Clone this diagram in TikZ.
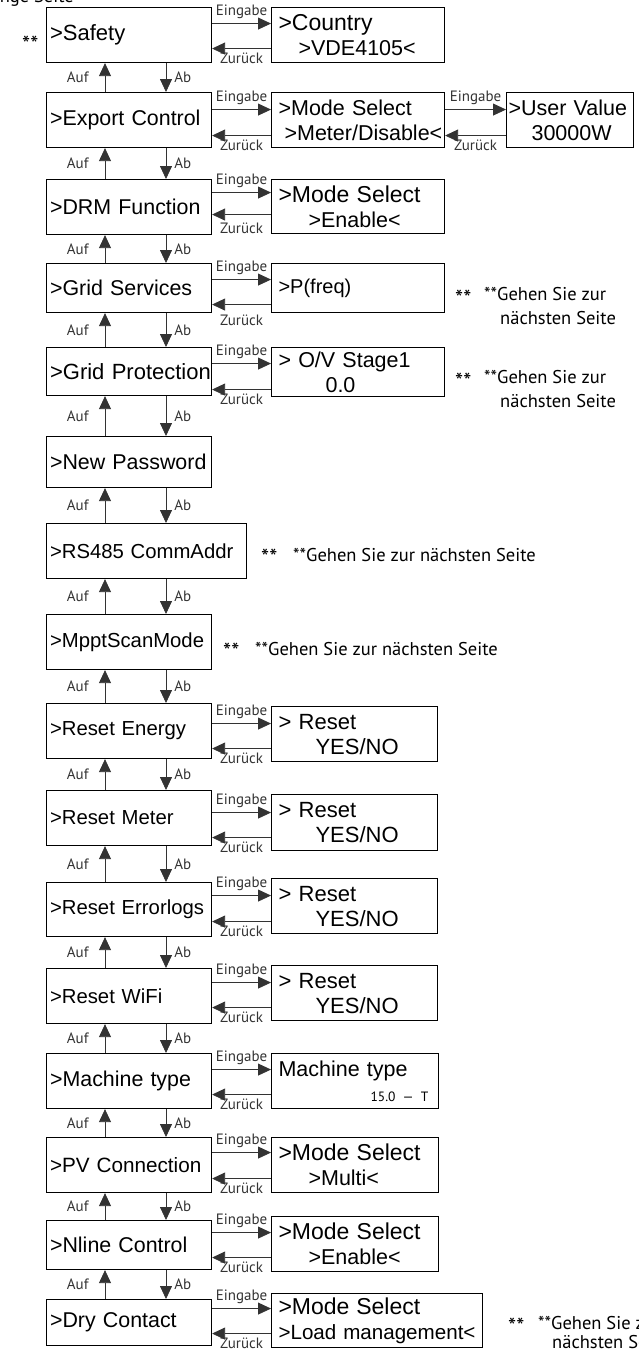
\documentclass[tikz,border=0pt]{standalone}
\usepackage{fontspec}
\setmainfont{Liberation Sans}
\newfontfamily\notefont{PT Sans}
\usetikzlibrary{arrows.meta}

\tikzset{
  menu/.style={draw, line width=1.1pt, anchor=north west, minimum width=165pt, minimum height=55pt,
    text width=158pt, inner xsep=3.5pt, align=left, font=\fontsize{21.4}{25}\selectfont},
  sub/.style={draw, line width=1.1pt, anchor=north west, minimum width=173pt, minimum height=55pt,
    text width=159pt, inner xsep=7pt, align=left, font=\fontsize{21.5}{25}\selectfont},
  smalltext/.style={font=\fontsize{20.3}{25}\selectfont},
  bigtext/.style={font=\fontsize{22}{25}\selectfont},
  go/.style={-{Triangle[length=13pt,width=12pt]}, line width=0.8pt, black!80},
  lbl/.style={font=\notefont\fontsize{15}{17}\selectfont, inner sep=0pt},
  note/.style={font=\notefont\fontsize{18.5}{24}\selectfont, anchor=west, align=left, inner sep=0pt},
  stars/.style={font=\notefont\fontsize{23}{24}\selectfont, anchor=west, inner sep=0pt}
}
\newcommand{\bigline}[1]{{\fontsize{23}{25}\selectfont #1}}

\begin{document}
\begin{tikzpicture}[x=1pt,y=-1pt]
\useasboundingbox (0,0) rectangle (639,1355);

% main menu column
\node[menu, bigtext] (safety) at (46,7) {>Safety};
\node[menu] (export) at (46,92) {>Export Control};
\node[menu] (drm) at (46,179) {>DRM Function};
\node[menu, minimum height=49pt] (grid) at (46,263) {>Grid Services};
\node[menu, bigtext, minimum height=48pt] (prot) at (46,347) {\mbox{>Grid Protection}};
\node[menu, minimum height=51pt] (pass) at (46,436) {\mbox{>New Password}};
\node[menu, smalltext, minimum width=200pt, text width=193pt] (rs) at (46,523) {>RS485 CommAddr};
\node[menu, smalltext] (mppt) at (46,614) {>MpptScanMode};
\node[menu, smalltext] (energy) at (46,703) {>Reset Energy};
\node[menu, smalltext] (meter) at (46,790) {>Reset Meter};
\node[menu, smalltext, minimum height=54pt] (errlog) at (46,882) {\mbox{>Reset Errorlogs}};
\node[menu, smalltext] (wifi) at (46,968) {>Reset WiFi};
\node[menu] (machine) at (46,1053) {>Machine type};
\node[menu, font=\fontsize{20.7}{25}\selectfont] (pv) at (46,1137) {\mbox{>PV Connection}};
\node[menu, minimum height=49pt] (nline) at (46,1220) {>Nline Control};
\node[menu, minimum height=46pt] (dry) at (46,1299) {>Dry Contact};

% sub menus
\node[sub] (country) at (271,7) {\bigline{>Country}\\\hspace*{20pt}>VDE4105<};
\node[sub] (exmode) at (271,92) {>Mode Select\\\mbox{\hspace*{6pt}>Meter/Disable<}};
\node[sub, minimum width=127pt, text width=123pt, inner xsep=2pt] (user) at (506,92) {>User Value\\\hspace*{23pt}30000W};
\node[sub, minimum height=54pt] (drmmode) at (271,179) {\bigline{>Mode Select}\\\hspace*{30pt}>Enable<};
\node[sub, font=\fontsize{20}{25}\selectfont, minimum height=49pt] (pfreq) at (271,263) {>P(freq)};
\node[sub, minimum height=49pt] (ov) at (271,347) {> O/V Stage1\\\hspace*{47pt}0.0};
\node[sub, bigtext, minimum width=166pt, text width=152pt] (reset1) at (271,706) {> Reset\\\hspace*{37pt}YES/NO};
\node[sub, bigtext, minimum width=166pt, text width=152pt, minimum height=56pt] (reset2) at (271,794) {> Reset\\\hspace*{37pt}YES/NO};
\node[sub, bigtext, minimum width=166pt, text width=152pt] (reset3) at (271,878) {> Reset\\\hspace*{37pt}YES/NO};
\node[sub, bigtext, minimum width=166pt, text width=152pt] (reset4) at (271,965) {> Reset\\\hspace*{37pt}YES/NO};
\node[sub, minimum width=167pt, text width=153pt, inner xsep=7pt] (mtype) at (271,1053)
  {Machine type\\\hspace*{92pt}{\notefont\fontsize{13.5}{13.5}\selectfont 15.0 — T}};
\node[sub, minimum width=167pt, text width=153pt] (pvmode) at (271,1137) {\bigline{>Mode Select}\\\hspace*{30pt}>Multi<};
\node[sub, minimum width=167pt, text width=153pt] (nlmode) at (271,1216) {\bigline{>Mode Select}\\\hspace*{30pt}>Enable<};
\node[sub, font=\fontsize{20.6}{25}\selectfont, minimum width=211pt, text width=197pt, minimum height=54pt] (drymode) at (271,1293)
  {\bigline{>Mode Select}\\\mbox{>Load management<}};

% Eingabe / Zurueck
\draw[go] ([yshift=11.5pt]safety.east) -- node[lbl, above=4pt]{Eingabe} ([yshift=11.5pt]safety.east -| country.west);
\draw[go] ([yshift=-13.5pt]safety.east -| country.west) -- node[lbl, below=4pt]{Zurück} ([yshift=-13.5pt]safety.east);
\draw[go] ([yshift=10.5pt]export.east) -- node[lbl, above=4pt]{Eingabe} ([yshift=10.5pt]export.east -| exmode.west);
\draw[go] ([yshift=-15.5pt]export.east -| exmode.west) -- node[lbl, below=4pt]{Zurück} ([yshift=-15.5pt]export.east);
\draw[go] ([yshift=10.5pt]exmode.east) -- node[lbl, above=4pt]{Eingabe} ([yshift=10.5pt]exmode.east -| user.west);
\draw[go] ([yshift=-15.5pt]exmode.east -| user.west) -- node[lbl, below=4pt]{Zurück} ([yshift=-15.5pt]exmode.east);
\draw[go] ([yshift=14.5pt]drm.east) -- node[lbl, above=4pt]{Eingabe} ([yshift=14.5pt]drm.east -| drmmode.west);
\draw[go] ([yshift=-7.5pt]drm.east -| drmmode.west) -- node[lbl, below=8pt]{Zurück} ([yshift=-7.5pt]drm.east);
\draw[go] ([yshift=8.5pt]grid.east) -- node[lbl, above=4pt]{Eingabe} ([yshift=8.5pt]grid.east -| pfreq.west);
\draw[go] ([yshift=-16.5pt]grid.east -| pfreq.west) -- node[lbl, below=10pt]{Zurück} ([yshift=-16.5pt]grid.east);
\draw[go] ([yshift=8pt]prot.east) -- node[lbl, above=4pt]{Eingabe} ([yshift=8pt]prot.east -| ov.west);
\draw[go] ([yshift=-18pt]prot.east -| ov.west) -- node[lbl, below=4pt]{Zurück} ([yshift=-18pt]prot.east);
\draw[go] ([yshift=7.5pt]energy.east) -- node[lbl, above=4pt]{Eingabe} ([yshift=7.5pt]energy.east -| reset1.west);
\draw[go] ([yshift=-17.5pt]energy.east -| reset1.west) -- node[lbl, below=4pt]{Zurück} ([yshift=-17.5pt]energy.east);
\draw[go] ([yshift=5.5pt]meter.east) -- node[lbl, above=4pt]{Eingabe} ([yshift=5.5pt]meter.east -| reset2.west);
\draw[go] ([yshift=-19.5pt]meter.east -| reset2.west) -- node[lbl, below=4pt]{Zurück} ([yshift=-19.5pt]meter.east);
\draw[go] ([yshift=14pt]errlog.east) -- node[lbl, above=4pt]{Eingabe} ([yshift=14pt]errlog.east -| reset3.west);
\draw[go] ([yshift=-12pt]errlog.east -| reset3.west) -- node[lbl, below=4pt]{Zurück} ([yshift=-12pt]errlog.east);
\draw[go] ([yshift=13.5pt]wifi.east) -- node[lbl, above=4pt]{Eingabe} ([yshift=13.5pt]wifi.east -| reset4.west);
\draw[go] ([yshift=-11.5pt]wifi.east -| reset4.west) -- node[lbl, below=4pt]{Zurück} ([yshift=-11.5pt]wifi.east);
\draw[go] ([yshift=11.5pt]machine.east) -- node[lbl, above=4pt]{Eingabe} ([yshift=11.5pt]machine.east -| mtype.west);
\draw[go] ([yshift=-13.5pt]machine.east -| mtype.west) -- node[lbl, below=4pt]{Zurück} ([yshift=-13.5pt]machine.east);
\draw[go] ([yshift=12.5pt]pv.east) -- node[lbl, above=4pt]{Eingabe} ([yshift=12.5pt]pv.east -| pvmode.west);
\draw[go] ([yshift=-13.5pt]pv.east -| pvmode.west) -- node[lbl, below=4pt]{Zurück} ([yshift=-13.5pt]pv.east);
\draw[go] ([yshift=12.5pt]nline.east) -- node[lbl, above=4pt]{Eingabe} ([yshift=12.5pt]nline.east -| nlmode.west);
\draw[go] ([yshift=-12.5pt]nline.east -| nlmode.west) -- node[lbl, below=4pt]{Zurück} ([yshift=-12.5pt]nline.east);
\draw[go] ([yshift=14pt]dry.east) -- node[lbl, above=4pt]{Eingabe} ([yshift=14pt]dry.east -| drymode.west);
\draw[go] ([yshift=-11pt]dry.east -| drymode.west) -- node[lbl, below=4pt]{Zurück} ([yshift=-11pt]dry.east);

% Auf / Ab
\draw[go] ([xshift=59pt]export.north west) -- node[lbl, left=16pt]{Auf} ([xshift=59pt]safety.south west);
\draw[go] ([xshift=120pt]safety.south west) -- node[lbl, right=8pt]{Ab} ([xshift=120pt]export.north west);
\draw[go] ([xshift=59pt]drm.north west) -- node[lbl, left=16pt]{Auf} ([xshift=59pt]export.south west);
\draw[go] ([xshift=120pt]export.south west) -- node[lbl, right=8pt]{Ab} ([xshift=120pt]drm.north west);
\draw[go] ([xshift=59pt]grid.north west) -- node[lbl, left=16pt]{Auf} ([xshift=59pt]drm.south west);
\draw[go] ([xshift=120pt]drm.south west) -- node[lbl, right=8pt]{Ab} ([xshift=120pt]grid.north west);
\draw[go] ([xshift=59pt]prot.north west) -- node[lbl, left=16pt]{Auf} ([xshift=59pt]grid.south west);
\draw[go] ([xshift=120pt]grid.south west) -- node[lbl, right=8pt]{Ab} ([xshift=120pt]prot.north west);
\draw[go] ([xshift=59pt]pass.north west) -- node[lbl, left=16pt]{Auf} ([xshift=59pt]prot.south west);
\draw[go] ([xshift=120pt]prot.south west) -- node[lbl, right=8pt]{Ab} ([xshift=120pt]pass.north west);
\draw[go] ([xshift=59pt]rs.north west) -- node[lbl, left=16pt]{Auf} ([xshift=59pt]pass.south west);
\draw[go] ([xshift=120pt]pass.south west) -- node[lbl, right=8pt]{Ab} ([xshift=120pt]rs.north west);
\draw[go] ([xshift=59pt]mppt.north west) -- node[lbl, left=16pt]{Auf} ([xshift=59pt]rs.south west);
\draw[go] ([xshift=120pt]rs.south west) -- node[lbl, right=8pt]{Ab} ([xshift=120pt]mppt.north west);
\draw[go] ([xshift=59pt]energy.north west) -- node[lbl, left=16pt]{Auf} ([xshift=59pt]mppt.south west);
\draw[go] ([xshift=120pt]mppt.south west) -- node[lbl, right=8pt]{Ab} ([xshift=120pt]energy.north west);
\draw[go] ([xshift=59pt]meter.north west) -- node[lbl, left=16pt]{Auf} ([xshift=59pt]energy.south west);
\draw[go] ([xshift=120pt]energy.south west) -- node[lbl, right=8pt]{Ab} ([xshift=120pt]meter.north west);
\draw[go] ([xshift=59pt]errlog.north west) -- node[lbl, left=16pt]{Auf} ([xshift=59pt]meter.south west);
\draw[go] ([xshift=120pt]meter.south west) -- node[lbl, right=8pt]{Ab} ([xshift=120pt]errlog.north west);
\draw[go] ([xshift=59pt]wifi.north west) -- node[lbl, left=16pt]{Auf} ([xshift=59pt]errlog.south west);
\draw[go] ([xshift=120pt]errlog.south west) -- node[lbl, right=8pt]{Ab} ([xshift=120pt]wifi.north west);
\draw[go] ([xshift=59pt]machine.north west) -- node[lbl, left=16pt]{Auf} ([xshift=59pt]wifi.south west);
\draw[go] ([xshift=120pt]wifi.south west) -- node[lbl, right=8pt]{Ab} ([xshift=120pt]machine.north west);
\draw[go] ([xshift=59pt]pv.north west) -- node[lbl, left=16pt]{Auf} ([xshift=59pt]machine.south west);
\draw[go] ([xshift=120pt]machine.south west) -- node[lbl, right=8pt]{Ab} ([xshift=120pt]pv.north west);
\draw[go] ([xshift=59pt]nline.north west) -- node[lbl, left=16pt]{Auf} ([xshift=59pt]pv.south west);
\draw[go] ([xshift=120pt]pv.south west) -- node[lbl, right=8pt]{Ab} ([xshift=120pt]nline.north west);
\draw[go] ([xshift=59pt]dry.north west) -- node[lbl, left=16pt]{Auf} ([xshift=59pt]nline.south west);
\draw[go] ([xshift=120pt]nline.south west) -- node[lbl, right=8pt]{Ab} ([xshift=120pt]dry.north west);

% notes
\node[note, anchor=east] (prev) at (74,-2) {nge Seite};
\node[stars] (star0) at (22,44) {**};
\node[stars] (star1) at (455,298) {**};
\node[note] (next1) at (484,306) {**Gehen Sie zur\\\hspace*{16pt}nächsten Seite};
\node[stars] (star2) at (455,381) {**};
\node[note] (next2) at (484,389) {**Gehen Sie zur\\\hspace*{16pt}nächsten Seite};
\node[stars] (star3) at (261,557) {**};
\node[note] (next3) at (293,555) {**Gehen Sie zur nächsten Seite};
\node[stars] (star4) at (223,651) {**};
\node[note] (next4) at (255,649) {**Gehen Sie zur nächsten Seite};
\node[stars] (star5) at (508,1326) {**};
\node[note, font=\notefont\fontsize{18.5}{19}\selectfont] (next5) at (538,1332) {**Gehen Sie zur\\\hspace*{14pt}nächsten Seite};
\end{tikzpicture}
\end{document}
